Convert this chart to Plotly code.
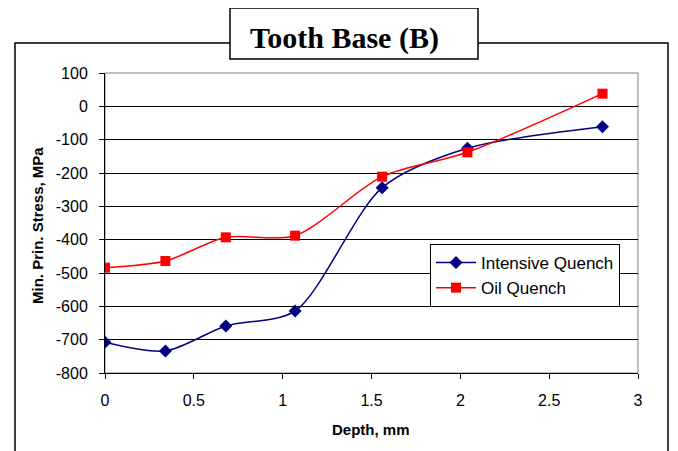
import plotly.graph_objects as go

# Depth (mm) and minimum principal stress (MPa)
depth = [0, 0.34, 0.68, 1.07, 1.56, 2.04, 2.80]
intensive_quench = [-708, -734, -659, -614, -244, -126, -61]
oil_quench = [-484, -464, -393, -388, -211, -138, 38]

y_ticks = [100, 0, -100, -200, -300, -400, -500, -600, -700, -800]
y_tick_text = [str(v) for v in y_ticks]
x_ticks = [0, 0.5, 1, 1.5, 2, 2.5, 3]
x_tick_text = ["0", "0.5", "1", "1.5", "2", "2.5", "3"]

# the page body adds an 8px margin, so the figure is shrunk and shifted to compensate
OFF = 8
W, H = 678 - OFF, 451 - OFF
L, T = 105 - OFF, 73 - OFF
pw, ph = 533, 300
R, B = W - L - pw, H - T - ph


# screen pixel -> paper coordinates
def px_x(p):
    return (p - OFF - L) / pw


def px_y(p):
    return (T + ph - (p - OFF)) / ph


fig = go.Figure()
fig.add_trace(go.Scatter(x=depth, y=intensive_quench, name="Intensive Quench",
                         mode="lines+markers", line=dict(color="#000080", width=1.5, shape="spline", smoothing=0.8),
                         marker=dict(symbol="diamond", size=10, color="#000080")))
fig.add_trace(go.Scatter(x=depth, y=oil_quench, name="Oil Quench",
                         mode="lines+markers", line=dict(color="#FF0000", width=1.5, shape="spline", smoothing=0.8),
                         marker=dict(symbol="square", size=10, color="#FF0000")))

fig.update_layout(
    width=W, height=H,
    margin=dict(l=L, r=R, t=T, b=B, pad=0),
    paper_bgcolor="white", plot_bgcolor="white",
    font=dict(family="Liberation Sans, Arial", size=16, color="black"),
    showlegend=True,
    legend=dict(x=px_x(430), y=px_y(244), xanchor="left", yanchor="top",
                bordercolor="black", borderwidth=1, bgcolor="white",
                font=dict(size=17), itemwidth=40),
    xaxis=dict(range=[0, 3], tickvals=x_ticks, ticktext=x_tick_text, showgrid=False, zeroline=False,
               showline=True, linecolor="black", linewidth=1, ticks="outside", ticklen=5,
               tickcolor="black", ticklabelstandoff=8),
    yaxis=dict(range=[-800, 100], tickvals=y_ticks, ticktext=y_tick_text, showgrid=True,
               gridcolor="black", gridwidth=1, zeroline=False, showline=True, linecolor="black",
               linewidth=1, ticks="outside", ticklen=5, tickcolor="black", ticklabelstandoff=8),
)

# plot area border (gray), outer chart frame, title box
fig.add_shape(type="rect", xref="paper", yref="paper", x0=0, x1=1, y0=0, y1=1,
              line=dict(color="#808080", width=1), layer="between")
fig.add_shape(type="rect", xref="paper", yref="paper", x0=px_x(15), x1=px_x(668),
              y0=px_y(470), y1=px_y(43), line=dict(color="black", width=1.5))
fig.add_shape(type="rect", xref="paper", yref="paper", x0=px_x(230), x1=px_x(478),
              y0=px_y(59), y1=px_y(8), line=dict(color="black", width=1.5), fillcolor="white")

fig.add_annotation(text="<b>Tooth Base (B)</b>", xref="paper", yref="paper", x=px_x(344), y=px_y(38),
                   xanchor="center", yanchor="middle", showarrow=False,
                   font=dict(family="Liberation Serif, Times New Roman", size=30))
fig.add_annotation(text="<b>Depth, mm</b>", xref="paper", yref="paper", x=px_x(371), y=px_y(429),
                   xanchor="center", yanchor="middle", showarrow=False, font=dict(size=15))
fig.add_annotation(text="<b>Min. Prin. Stress, MPa</b>", xref="paper", yref="paper", x=px_x(37), y=px_y(226),
                   xanchor="center", yanchor="middle", showarrow=False, textangle=-90, font=dict(size=15))

fig.write_html("out.html")
